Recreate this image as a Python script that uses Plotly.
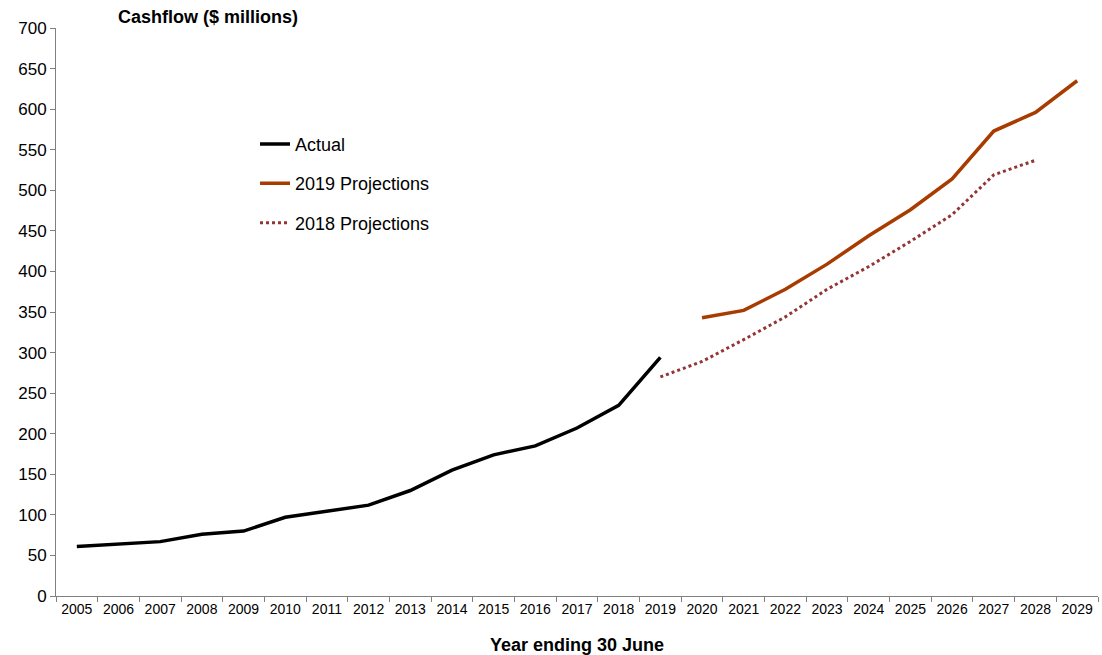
import plotly.graph_objects as go

# Financial years (ending 30 June)
years = [str(y) for y in range(2005, 2030)]

# Actual cashflow, 2005-2019 ($ millions)
actual_years = [str(y) for y in range(2005, 2020)]
actual = [61, 64, 67, 76, 80, 97, 105, 112, 130, 155, 174, 185, 207, 235, 294]

# 2019 projections, 2020-2029
proj2019_years = [str(y) for y in range(2020, 2030)]
proj2019 = [343, 352, 378, 409, 444, 476, 514, 573, 596, 635]

# 2018 projections, 2019-2028
proj2018_years = [str(y) for y in range(2019, 2029)]
proj2018 = [270, 289, 316, 344, 378, 406, 437, 470, 519, 537]

y_ticks = list(range(0, 701, 50))

FONT = "Liberation Sans, Arial, sans-serif"

fig = go.Figure()
fig.add_trace(go.Scatter(
    x=actual_years, y=actual, mode="lines", name="Actual",
    line=dict(color="#000000", width=3.5), legendgroup="a",
))
fig.add_trace(go.Scatter(
    x=proj2019_years, y=proj2019, mode="lines", name="2019 Projections",
    line=dict(color="#A83C00", width=3.5), legendgroup="b",
))
fig.add_trace(go.Scatter(
    x=proj2018_years, y=proj2018, mode="lines", name="2018 Projections",
    line=dict(color="#943434", width=3, dash="3px,3px"), legendgroup="c",
))

fig.update_layout(
    width=1102, height=655,
    margin=dict(l=56, r=4, t=28, b=59),
    paper_bgcolor="white", plot_bgcolor="white",
    font=dict(family=FONT, color="#000000"),
    showlegend=True,
    legend=dict(
        x=0.191, y=0.828, xanchor="left", yanchor="top",
        bgcolor="rgba(0,0,0,0)", font=dict(size=18, family=FONT),
        tracegroupgap=13, itemwidth=30,
    ),
    xaxis=dict(
        type="category", categoryorder="array", categoryarray=years,
        range=[-0.5, len(years) - 0.5],
        tickmode="array", tickvals=years, ticktext=years,
        tickson="boundaries", ticks="outside", ticklen=5, tickcolor="#808080",
        showline=True, linecolor="#808080", linewidth=1,
        showgrid=False, zeroline=False,
        tickfont=dict(size=14, family=FONT),
        title=dict(text="<b>Year ending 30 June</b>", font=dict(size=18, family=FONT), standoff=23),
    ),
    yaxis=dict(
        range=[0, 700], tickmode="array", tickvals=y_ticks,
        ticks="outside", ticklen=5, tickcolor="#808080",
        showline=True, linecolor="#808080", linewidth=1,
        showgrid=False, zeroline=False,
        tickfont=dict(size=17, family=FONT),
    ),
    annotations=[dict(
        text="<b>Cashflow ($ millions)</b>", xref="paper", yref="paper",
        x=0.0575, y=1.019, xanchor="left", yanchor="middle", showarrow=False,
        font=dict(size=18, family=FONT),
    )],
)

fig.write_html("out.html")
